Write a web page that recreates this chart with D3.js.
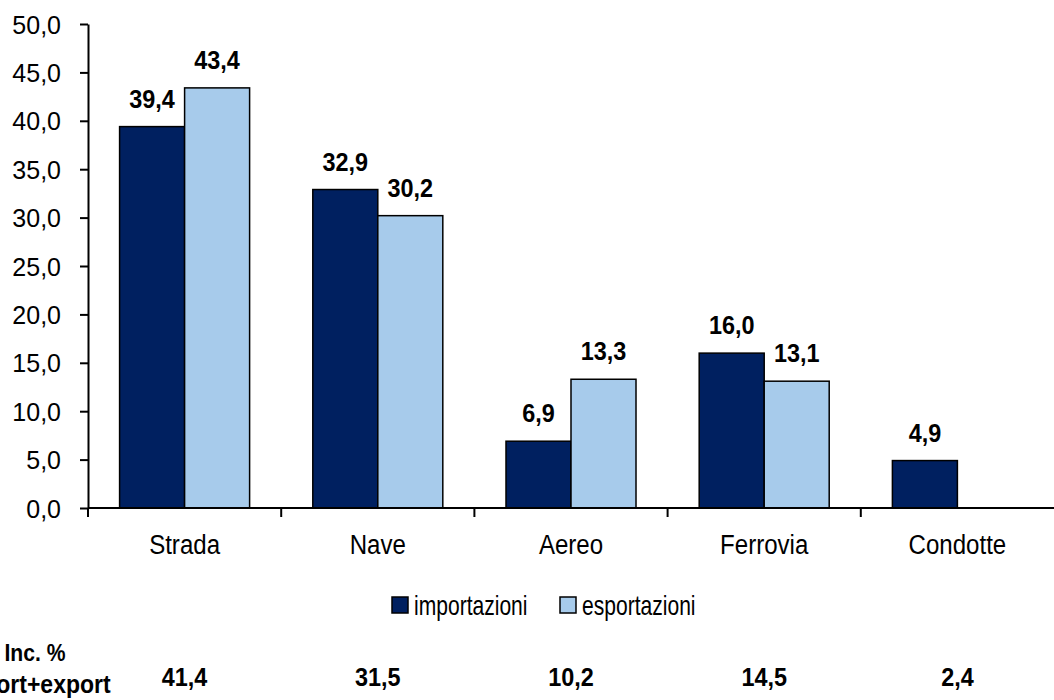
<!DOCTYPE html>
<html>
<head>
<meta charset="utf-8">
<script src="https://cdn.jsdelivr.net/npm/d3@7"></script>
<style>
  body { margin: 0; background: #fff; }
  svg { font-family: "Liberation Sans", Arial, sans-serif; }
</style>
</head>
<body>
<svg id="chart" width="1054" height="700"></svg>
<script>
// categories and series values
const categories = ["Strada", "Nave", "Aereo", "Ferrovia", "Condotte"];
const seriesNames = ["importazioni", "esportazioni"];
const importazioni = [39.4, 32.9, 6.9, 16.0, 4.9];
const esportazioni = [43.4, 30.2, 13.3, 13.1, null];
const incidenza = [41.4, 31.5, 10.2, 14.5, 2.4];
const yTicks = [0, 5, 10, 15, 20, 25, 30, 35, 40, 45, 50];

const colors = { importazioni: "#002060", esportazioni: "#a7cbeb" };
const fmt = v => d3.format(".1f")(v).replace(".", ",");

const svg = d3.select("#chart");
const plot = { left: 88, right: 1054, top: 24, bottom: 508 };

// the source font is a narrow one: squeeze text horizontally
function placeText(sel, x, y, sx) {
  return sel.attr("transform", (d, i) => {
    const px = typeof x === "function" ? x(d, i) : x;
    const py = typeof y === "function" ? y(d, i) : y;
    return `translate(${px},${py}) scale(${sx},1)`;
  });
}

const x = d3.scaleBand().domain(categories).range([plot.left, plot.right]).paddingInner(0).paddingOuter(0);
const xs = d3.scaleBand().domain(seriesNames).range([0, x.bandwidth()]).paddingInner(0).paddingOuter(0.486);
const y = d3.scaleLinear().domain([0, 50]).range([plot.bottom, plot.top]);

const rows = categories.map((c, i) => ({
  cat: c,
  values: [
    { key: "importazioni", value: importazioni[i] },
    { key: "esportazioni", value: esportazioni[i] }
  ].filter(d => d.value != null)
}));

// bars
const groups = svg.append("g").selectAll("g.cat")
  .data(rows)
  .join("g")
  .attr("class", "cat")
  .attr("transform", d => `translate(${x(d.cat)},0)`);

groups.selectAll("rect")
  .data(d => d.values)
  .join("rect")
  .attr("x", d => xs(d.key))
  .attr("y", d => y(d.value))
  .attr("width", xs.bandwidth())
  .attr("height", d => y(0) - y(d.value))
  .attr("fill", d => colors[d.key])
  .attr("stroke", "#000")
  .attr("stroke-width", 1.5);

// value labels
groups.selectAll("text.val")
  .data(d => d.values)
  .join("text")
  .attr("class", "val")
  .attr("text-anchor", "middle")
  .style("font-size", "26px")
  .style("font-weight", "bold")
  .call(placeText, d => xs(d.key) + xs.bandwidth() / 2, d => y(d.value) - 19, 0.9)
  .text(d => fmt(d.value));

// y axis
const yAxis = svg.append("g")
  .attr("transform", `translate(${plot.left},0)`)
  .call(d3.axisLeft(y).tickValues(yTicks).tickFormat(fmt).tickSize(8).tickSizeOuter(0));
yAxis.select(".domain").attr("stroke", "#000").attr("stroke-width", 2);
yAxis.selectAll(".tick line").attr("stroke-width", 2);
yAxis.selectAll(".tick text")
  .attr("x", -27)
  .attr("dy", "0.36em")
  .style("font-size", "25px")
  .attr("fill", "#000");

// x axis: ticks between categories
const xAxis = svg.append("g")
  .attr("transform", `translate(0,${plot.bottom})`);
xAxis.append("line")
  .attr("x1", plot.left).attr("x2", plot.right)
  .attr("stroke", "#000").attr("stroke-width", 2);
xAxis.selectAll("line.tk")
  .data(categories)
  .join("line")
  .attr("class", "tk")
  .attr("x1", d => x(d)).attr("x2", d => x(d))
  .attr("y1", 0).attr("y2", 9)
  .attr("stroke", "#000").attr("stroke-width", 2);
xAxis.selectAll("text")
  .data(categories)
  .join("text")
  .attr("text-anchor", "middle")
  .style("font-size", "28px")
  .call(placeText, d => x(d) + x.bandwidth() / 2, 46, 0.86)
  .text(d => d);

// legend
const legend = svg.append("g").attr("transform", "translate(392,597)");
const legendPos = [0, 168];
legend.selectAll("g")
  .data(seriesNames)
  .join("g")
  .attr("transform", (d, i) => `translate(${legendPos[i]},0)`)
  .each(function(d) {
    const g = d3.select(this);
    g.append("rect")
      .attr("width", 16).attr("height", 16)
      .attr("fill", colors[d])
      .attr("stroke", "#000").attr("stroke-width", 1.5);
    g.append("text")
      .style("font-size", "27px")
      .call(placeText, 22, 18, 0.78)
      .text(d);
  });

// incidence row (the second line runs off the left edge in the source too)
const inc = svg.append("g");
inc.append("text")
  .attr("text-anchor", "middle")
  .style("font-size", "24px").style("font-weight", "bold")
  .call(placeText, 35, 661, 0.88)
  .text("Inc. %");
inc.append("text")
  .attr("text-anchor", "middle")
  .style("font-size", "25px").style("font-weight", "bold")
  .call(placeText, 33, 693, 0.92)
  .text("import+export");
inc.selectAll("text.incv")
  .data(categories.map((c, i) => ({ cat: c, value: incidenza[i] })))
  .join("text")
  .attr("class", "incv")
  .attr("text-anchor", "middle")
  .style("font-size", "26px").style("font-weight", "bold")
  .call(placeText, d => x(d.cat) + x.bandwidth() / 2, 686, 0.9)
  .text(d => fmt(d.value));
</script>
</body>
</html>
